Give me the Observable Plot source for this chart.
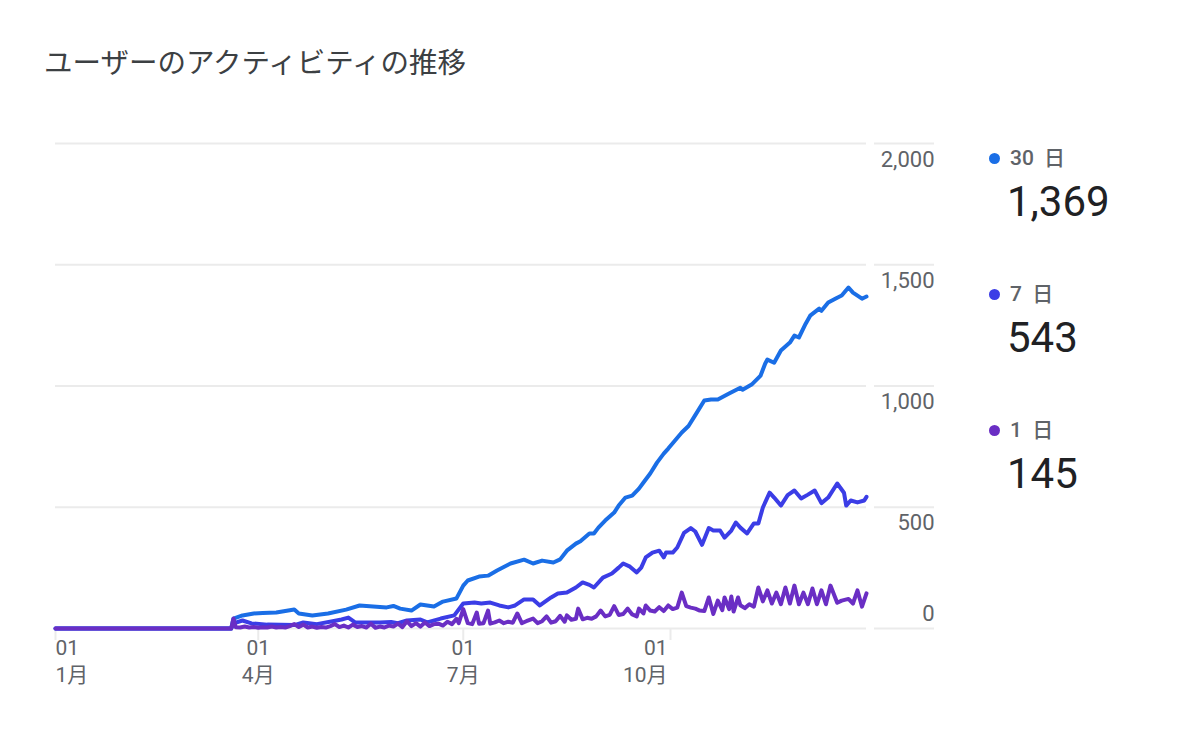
<!DOCTYPE html>
<html>
<head>
<meta charset="utf-8">
<script src="https://cdn.jsdelivr.net/npm/d3@7"></script>
<script src="https://cdn.jsdelivr.net/npm/@observablehq/plot@0.6"></script>
<style>
  html, body { margin: 0; padding: 0; background: #fff; }
  #wrap { position: relative; width: 1192px; height: 732px; overflow: hidden; font-family: Roboto, "Noto Sans CJK JP", sans-serif; }
  #title { position: absolute; left: 44px; top: 46px; font-family: "Noto Sans CJK JP", sans-serif; font-size: 28.5px; line-height: 30px; color: #3c4043; white-space: nowrap; }
  #chart { position: absolute; left: 0; top: 100px; }
  .dot { position: absolute; width: 11px; height: 11px; border-radius: 50%; }
  .lab { position: absolute; font-size: 21px; line-height: 21px; font-weight: 500; color: #5f6368; word-spacing: 5px; white-space: nowrap; }
  .val { position: absolute; font-size: 42px; line-height: 42px; font-weight: 400; color: #202124; white-space: nowrap; }
</style>
</head>
<body>
<div id="wrap">
  <div id="title">ユーザーのアクティビティの推移</div>
  <div id="chart"></div>
  <div id="legend"></div>
</div>
<script>
// ---- data (day offsets from 1 January, active users) ----
const seriesNames = ["30 日", "7 日", "1 日"];
const seriesColors = ["#1a6ee6", "#3b3de6", "#6a2ec4"];

const days30 = [0,78,79,83,88,92,98,106,108,114,121,129,135,141,147,150,153,158,162,168,172,178,181,183,188,192,196,202,208,212,216,221,224,227,231,233,237,239,241,244,248,250,253,256,259,261,264,267,270,272,275,278,281,284,288,291,294,299,304,305,309,313,315,316,319,322,326,328,330,333,335,339,340,343,347,349,352,354,358,360];
const users30 = [0,0,41,54,62,64,66,78,62,54,62,78,95,91,87,93,82,74,99,91,111,124,177,198,214,218,239,268,284,268,280,272,285,321,350,360,392,392,416,445,478,507,540,548,577,602,639,684,721,742,775,808,835,880,940,944,944,969,993,985,1006,1043,1092,1109,1096,1146,1179,1208,1200,1257,1290,1319,1310,1344,1364,1373,1406,1385,1360,1369];

const days7 = [0,78,79,83,87,94,106,110,116,123,127,130,133,139,144,149,152,156,162,165,171,177,181,186,189,193,197,201,204,208,212,215,220,223,227,231,234,237,239,243,247,250,252,255,258,260,262,265,268,270,271,274,276,279,282,284,287,290,292,295,297,300,302,304,307,310,312,314,317,319,322,325,328,331,334,337,340,343,347,350,351,353,356,359,360];
const users7 = [0,0,21,33,21,16,14,25,18,30,37,45,25,25,25,27,22,33,37,25,41,54,103,107,103,107,95,87,95,120,120,95,128,144,148,169,190,180,169,210,227,251,268,255,231,251,293,313,321,293,313,313,334,394,414,400,345,414,404,404,375,404,437,416,392,433,433,499,560,540,507,550,569,536,552,569,517,540,598,560,507,528,520,528,543];

const days1 = [0,78,79,80,82,84,86,88,90,92,94,96,98,100,102,104,106,108,110,112,114,116,118,120,122,124,126,128,130,132,134,136,138,140,142,144,146,148,150,152,154,156,158,160,162,164,166,168,170,172,174,176,178,179,181,183,185,187,188,190,192,193,195,197,199,201,203,205,207,209,212,214,216,218,220,222,224,226,227,229,231,232,234,236,238,240,242,244,246,248,250,252,254,256,258,259,261,262,264,266,268,270,272,274,276,278,280,282,284,286,288,290,292,294,296,297,299,300,301,303,304,306,308,310,312,314,316,318,320,322,324,326,328,330,332,334,336,338,340,342,344,347,349,352,354,356,358,360];
const users1 = [0,0,41,5,4,8,4,6,3,5,4,8,4,6,4,10,18,6,16,4,8,3,6,4,10,18,6,12,4,16,6,10,4,20,3,8,4,12,8,20,6,30,10,22,8,25,10,18,20,12,28,18,40,22,80,22,18,66,20,22,74,20,25,33,22,28,24,62,22,30,41,22,30,50,24,30,52,28,54,36,40,82,38,44,40,50,74,50,56,92,56,60,82,58,50,82,62,95,74,70,88,72,95,80,86,148,92,86,82,74,72,128,60,115,76,128,80,132,70,128,96,84,100,90,169,112,157,103,148,100,169,103,177,100,148,100,165,100,157,100,177,106,115,122,103,157,90,145];

const yTicks = [0, 500, 1000, 1500, 2000];
const tickDates = ["2023-01-01", "2023-04-01", "2023-07-01", "2023-10-01"];
const tickDayLabels = ["01", "01", "01", "01"];
const tickMonthLabels = ["1月", "4月", "7月", "10月"];

// ---- build ----
const base = Date.UTC(2023, 0, 1);
const toDate = d => new Date(base + d * 864e5);
const rows = (days, users) => days.map((d, i) => ({date: toDate(d), users: users[i]}));
const allSeries = [rows(days30, users30), rows(days7, users7), rows(days1, users1)];
const lastDay = Math.max(days30[days30.length - 1], days7[days7.length - 1], days1[days1.length - 1]);

const font = "Roboto, 'Noto Sans CJK JP', sans-serif";
const labelColor = "#5f6368";
const gridColor = "#ebebeb";

const tickIdx = d3.range(tickDates.length);
const anchorOf = i => i === 0 ? "start" : (i === tickDates.length - 1 ? "end" : "middle");
const xLabelMarks = [];
for (const anchor of ["start", "middle", "end"]) {
  const idx = tickIdx.filter(i => anchorOf(i) === anchor);
  const common = {x: i => new Date(tickDates[i]), frameAnchor: "bottom", textAnchor: anchor,
    dx: anchor === "end" ? -3 : 0, fontSize: 21, fill: labelColor, fontFamily: font, lineAnchor: "middle"};
  xLabelMarks.push(Plot.text(idx, {...common, dy: 20, text: i => tickDayLabels[i]}));
  xLabelMarks.push(Plot.text(idx, {...common, dy: 47, text: i => tickMonthLabels[i]}));
}

const chart = Plot.plot({
  width: 960,
  height: 632,
  marginLeft: 55,
  marginRight: 26,
  marginTop: 43,
  marginBottom: 104,
  x: {type: "utc", domain: [toDate(0), toDate(lastDay)], range: [55, 866], axis: null},
  y: {domain: [0, 2000], range: [528, 43], axis: null},
  style: {fontFamily: font, background: "#fff"},
  marks: [
    Plot.ruleY(yTicks, {y: d => d, stroke: gridColor, strokeWidth: 2, insetRight: 68}),
    Plot.ruleY(yTicks, {y: d => d, stroke: gridColor, strokeWidth: 2, insetLeft: 819}),
    Plot.axisX({ticks: tickDates.map(d => new Date(d)), tickSize: 12, tickFormat: () => "", label: null, stroke: gridColor, strokeWidth: 2}),
    Plot.text(yTicks.filter(d => d > 0), {y: d => d, frameAnchor: "right", textAnchor: "end", dy: 16, lineAnchor: "middle",
      text: d => d3.format(",")(d), fontSize: 22, fill: labelColor, fontFamily: font}),
    Plot.text(yTicks.filter(d => d === 0), {y: d => d, frameAnchor: "right", textAnchor: "end", dy: -15, lineAnchor: "middle",
      text: d => d3.format(",")(d), fontSize: 22, fill: labelColor, fontFamily: font}),
    ...xLabelMarks,
    ...allSeries.map((data, k) => Plot.line(data, {x: "date", y: "users", stroke: seriesColors[k],
      strokeWidth: 4, strokeLinejoin: "round", strokeLinecap: "round"}))
  ]
});
document.getElementById("chart").appendChild(chart);

// legend
const legend = document.getElementById("legend");
const lastValues = [users30, users7, users1].map(a => a[a.length - 1]);
seriesNames.forEach((name, i) => {
  const top = 140 + i * 136;
  const dot = document.createElement("div");
  dot.className = "dot";
  dot.style.left = "988.5px";
  dot.style.top = (top + 12.5) + "px";
  dot.style.background = seriesColors[i];
  legend.appendChild(dot);
  const lab = document.createElement("div");
  lab.className = "lab";
  lab.style.left = "1010px";
  lab.style.top = (top + 8) + "px";
  lab.textContent = name;
  legend.appendChild(lab);
  const val = document.createElement("div");
  val.className = "val";
  val.style.left = "1007px";
  val.style.top = (top + 41) + "px";
  val.textContent = d3.format(",")(lastValues[i]);
  legend.appendChild(val);
});
</script>
</body>
</html>
